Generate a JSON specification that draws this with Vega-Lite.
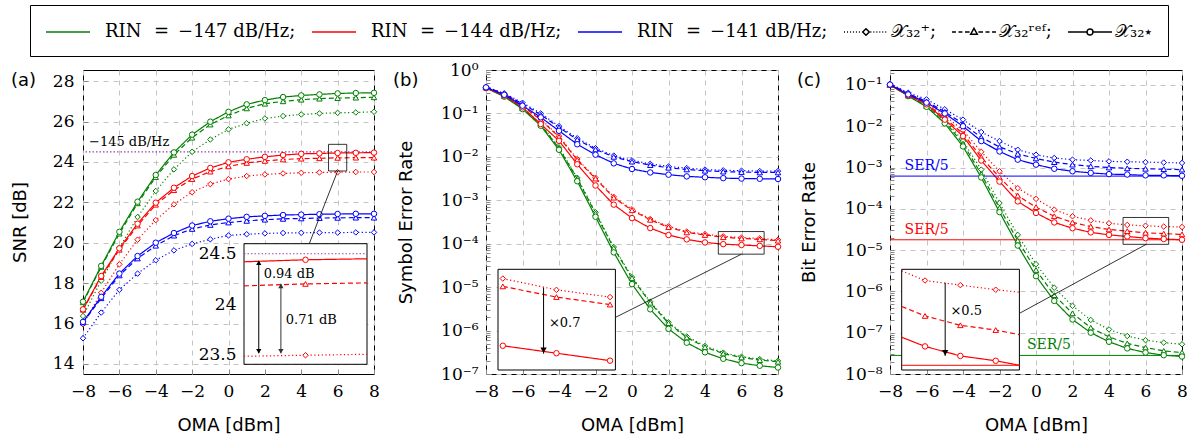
{
"$schema": "https://vega.github.io/schema/vega-lite/v6.json",
"padding": {"left": 10, "top": 4, "right": 4, "bottom": 4},
"spacing": 12,
"config": {
 "font": "DejaVu Serif",
 "view": {"stroke": "black", "strokeWidth": 1},
 "axis": {"grid": true, "gridDash": [5, 5], "gridColor": "#c4c4c4", "gridWidth": 1, "domain": false, "tickColor": "#888", "labelFont": "DejaVu Serif", "labelFontSize": 17, "labelColor": "black", "titleFont": "DejaVu Sans", "titleFontSize": 18, "titleFontWeight": "normal", "titleColor": "black", "labelFlush": false, "labelOverlap": false, "labelSeparation": -30},
 "axisX": {"labelOverlap": false, "labelSeparation": -30}
},
"datasets": {
"snr": [
{"OMA":-8,"RIN":"-147","scheme":"X+","v":16.37},{"OMA":-7,"RIN":"-147","scheme":"X+","v":18.12},{"OMA":-6,"RIN":"-147","scheme":"X+","v":19.75},{"OMA":-5,"RIN":"-147","scheme":"X+","v":21.27},{"OMA":-4,"RIN":"-147","scheme":"X+","v":22.56},{"OMA":-3,"RIN":"-147","scheme":"X+","v":23.63},{"OMA":-2,"RIN":"-147","scheme":"X+","v":24.50},{"OMA":-1,"RIN":"-147","scheme":"X+","v":25.11},{"OMA":0,"RIN":"-147","scheme":"X+","v":25.61},{"OMA":1,"RIN":"-147","scheme":"X+","v":25.91},{"OMA":2,"RIN":"-147","scheme":"X+","v":26.15},{"OMA":3,"RIN":"-147","scheme":"X+","v":26.27},{"OMA":4,"RIN":"-147","scheme":"X+","v":26.35},{"OMA":5,"RIN":"-147","scheme":"X+","v":26.40},{"OMA":6,"RIN":"-147","scheme":"X+","v":26.43},{"OMA":7,"RIN":"-147","scheme":"X+","v":26.45},{"OMA":8,"RIN":"-147","scheme":"X+","v":26.48},
{"OMA":-8,"RIN":"-147","scheme":"Xref","v":17.05},{"OMA":-7,"RIN":"-147","scheme":"Xref","v":18.80},{"OMA":-6,"RIN":"-147","scheme":"Xref","v":20.45},{"OMA":-5,"RIN":"-147","scheme":"Xref","v":21.95},{"OMA":-4,"RIN":"-147","scheme":"Xref","v":23.25},{"OMA":-3,"RIN":"-147","scheme":"Xref","v":24.35},{"OMA":-2,"RIN":"-147","scheme":"Xref","v":25.20},{"OMA":-1,"RIN":"-147","scheme":"Xref","v":25.85},{"OMA":0,"RIN":"-147","scheme":"Xref","v":26.30},{"OMA":1,"RIN":"-147","scheme":"Xref","v":26.65},{"OMA":2,"RIN":"-147","scheme":"Xref","v":26.88},{"OMA":3,"RIN":"-147","scheme":"Xref","v":27.00},{"OMA":4,"RIN":"-147","scheme":"Xref","v":27.08},{"OMA":5,"RIN":"-147","scheme":"Xref","v":27.13},{"OMA":6,"RIN":"-147","scheme":"Xref","v":27.16},{"OMA":7,"RIN":"-147","scheme":"Xref","v":27.18},{"OMA":8,"RIN":"-147","scheme":"Xref","v":27.20},
{"OMA":-8,"RIN":"-147","scheme":"X*","v":17.08},{"OMA":-7,"RIN":"-147","scheme":"X*","v":18.85},{"OMA":-6,"RIN":"-147","scheme":"X*","v":20.54},{"OMA":-5,"RIN":"-147","scheme":"X*","v":22.03},{"OMA":-4,"RIN":"-147","scheme":"X*","v":23.35},{"OMA":-3,"RIN":"-147","scheme":"X*","v":24.47},{"OMA":-2,"RIN":"-147","scheme":"X*","v":25.35},{"OMA":-1,"RIN":"-147","scheme":"X*","v":25.99},{"OMA":0,"RIN":"-147","scheme":"X*","v":26.48},{"OMA":1,"RIN":"-147","scheme":"X*","v":26.85},{"OMA":2,"RIN":"-147","scheme":"X*","v":27.06},{"OMA":3,"RIN":"-147","scheme":"X*","v":27.21},{"OMA":4,"RIN":"-147","scheme":"X*","v":27.29},{"OMA":5,"RIN":"-147","scheme":"X*","v":27.34},{"OMA":6,"RIN":"-147","scheme":"X*","v":27.39},{"OMA":7,"RIN":"-147","scheme":"X*","v":27.41},{"OMA":8,"RIN":"-147","scheme":"X*","v":27.42},
{"OMA":-8,"RIN":"-144","scheme":"X+","v":15.96},{"OMA":-7,"RIN":"-144","scheme":"X+","v":17.52},{"OMA":-6,"RIN":"-144","scheme":"X+","v":18.93},{"OMA":-5,"RIN":"-144","scheme":"X+","v":20.15},{"OMA":-4,"RIN":"-144","scheme":"X+","v":21.12},{"OMA":-3,"RIN":"-144","scheme":"X+","v":21.90},{"OMA":-2,"RIN":"-144","scheme":"X+","v":22.50},{"OMA":-1,"RIN":"-144","scheme":"X+","v":22.90},{"OMA":0,"RIN":"-144","scheme":"X+","v":23.15},{"OMA":1,"RIN":"-144","scheme":"X+","v":23.30},{"OMA":2,"RIN":"-144","scheme":"X+","v":23.38},{"OMA":3,"RIN":"-144","scheme":"X+","v":23.43},{"OMA":4,"RIN":"-144","scheme":"X+","v":23.46},{"OMA":5,"RIN":"-144","scheme":"X+","v":23.48},{"OMA":6,"RIN":"-144","scheme":"X+","v":23.49},{"OMA":7,"RIN":"-144","scheme":"X+","v":23.50},{"OMA":8,"RIN":"-144","scheme":"X+","v":23.50},
{"OMA":-8,"RIN":"-144","scheme":"Xref","v":16.68},{"OMA":-7,"RIN":"-144","scheme":"Xref","v":18.30},{"OMA":-6,"RIN":"-144","scheme":"Xref","v":19.65},{"OMA":-5,"RIN":"-144","scheme":"Xref","v":20.85},{"OMA":-4,"RIN":"-144","scheme":"Xref","v":21.88},{"OMA":-3,"RIN":"-144","scheme":"Xref","v":22.60},{"OMA":-2,"RIN":"-144","scheme":"Xref","v":23.15},{"OMA":-1,"RIN":"-144","scheme":"Xref","v":23.52},{"OMA":0,"RIN":"-144","scheme":"Xref","v":23.78},{"OMA":1,"RIN":"-144","scheme":"Xref","v":23.95},{"OMA":2,"RIN":"-144","scheme":"Xref","v":24.05},{"OMA":3,"RIN":"-144","scheme":"Xref","v":24.12},{"OMA":4,"RIN":"-144","scheme":"Xref","v":24.16},{"OMA":5,"RIN":"-144","scheme":"Xref","v":24.18},{"OMA":6,"RIN":"-144","scheme":"Xref","v":24.20},{"OMA":7,"RIN":"-144","scheme":"Xref","v":24.21},{"OMA":8,"RIN":"-144","scheme":"Xref","v":24.21},
{"OMA":-8,"RIN":"-144","scheme":"X*","v":16.70},{"OMA":-7,"RIN":"-144","scheme":"X*","v":18.35},{"OMA":-6,"RIN":"-144","scheme":"X*","v":19.72},{"OMA":-5,"RIN":"-144","scheme":"X*","v":20.94},{"OMA":-4,"RIN":"-144","scheme":"X*","v":21.98},{"OMA":-3,"RIN":"-144","scheme":"X*","v":22.72},{"OMA":-2,"RIN":"-144","scheme":"X*","v":23.30},{"OMA":-1,"RIN":"-144","scheme":"X*","v":23.70},{"OMA":0,"RIN":"-144","scheme":"X*","v":23.98},{"OMA":1,"RIN":"-144","scheme":"X*","v":24.13},{"OMA":2,"RIN":"-144","scheme":"X*","v":24.25},{"OMA":3,"RIN":"-144","scheme":"X*","v":24.34},{"OMA":4,"RIN":"-144","scheme":"X*","v":24.40},{"OMA":5,"RIN":"-144","scheme":"X*","v":24.42},{"OMA":6,"RIN":"-144","scheme":"X*","v":24.44},{"OMA":7,"RIN":"-144","scheme":"X*","v":24.45},{"OMA":8,"RIN":"-144","scheme":"X*","v":24.46},
{"OMA":-8,"RIN":"-141","scheme":"X+","v":15.27},{"OMA":-7,"RIN":"-141","scheme":"X+","v":16.54},{"OMA":-6,"RIN":"-141","scheme":"X+","v":17.67},{"OMA":-5,"RIN":"-141","scheme":"X+","v":18.47},{"OMA":-4,"RIN":"-141","scheme":"X+","v":19.13},{"OMA":-3,"RIN":"-141","scheme":"X+","v":19.62},{"OMA":-2,"RIN":"-141","scheme":"X+","v":19.94},{"OMA":-1,"RIN":"-141","scheme":"X+","v":20.17},{"OMA":0,"RIN":"-141","scheme":"X+","v":20.36},{"OMA":1,"RIN":"-141","scheme":"X+","v":20.42},{"OMA":2,"RIN":"-141","scheme":"X+","v":20.46},{"OMA":3,"RIN":"-141","scheme":"X+","v":20.48},{"OMA":4,"RIN":"-141","scheme":"X+","v":20.49},{"OMA":5,"RIN":"-141","scheme":"X+","v":20.50},{"OMA":6,"RIN":"-141","scheme":"X+","v":20.50},{"OMA":7,"RIN":"-141","scheme":"X+","v":20.51},{"OMA":8,"RIN":"-141","scheme":"X+","v":20.51},
{"OMA":-8,"RIN":"-141","scheme":"Xref","v":16.05},{"OMA":-7,"RIN":"-141","scheme":"Xref","v":17.25},{"OMA":-6,"RIN":"-141","scheme":"Xref","v":18.38},{"OMA":-5,"RIN":"-141","scheme":"Xref","v":19.22},{"OMA":-4,"RIN":"-141","scheme":"Xref","v":19.85},{"OMA":-3,"RIN":"-141","scheme":"Xref","v":20.35},{"OMA":-2,"RIN":"-141","scheme":"Xref","v":20.68},{"OMA":-1,"RIN":"-141","scheme":"Xref","v":20.88},{"OMA":0,"RIN":"-141","scheme":"Xref","v":21.00},{"OMA":1,"RIN":"-141","scheme":"Xref","v":21.08},{"OMA":2,"RIN":"-141","scheme":"Xref","v":21.14},{"OMA":3,"RIN":"-141","scheme":"Xref","v":21.18},{"OMA":4,"RIN":"-141","scheme":"Xref","v":21.20},{"OMA":5,"RIN":"-141","scheme":"Xref","v":21.22},{"OMA":6,"RIN":"-141","scheme":"Xref","v":21.23},{"OMA":7,"RIN":"-141","scheme":"Xref","v":21.24},{"OMA":8,"RIN":"-141","scheme":"Xref","v":21.24},
{"OMA":-8,"RIN":"-141","scheme":"X*","v":16.08},{"OMA":-7,"RIN":"-141","scheme":"X*","v":17.32},{"OMA":-6,"RIN":"-141","scheme":"X*","v":18.47},{"OMA":-5,"RIN":"-141","scheme":"X*","v":19.34},{"OMA":-4,"RIN":"-141","scheme":"X*","v":20.00},{"OMA":-3,"RIN":"-141","scheme":"X*","v":20.48},{"OMA":-2,"RIN":"-141","scheme":"X*","v":20.85},{"OMA":-1,"RIN":"-141","scheme":"X*","v":21.06},{"OMA":0,"RIN":"-141","scheme":"X*","v":21.19},{"OMA":1,"RIN":"-141","scheme":"X*","v":21.28},{"OMA":2,"RIN":"-141","scheme":"X*","v":21.33},{"OMA":3,"RIN":"-141","scheme":"X*","v":21.37},{"OMA":4,"RIN":"-141","scheme":"X*","v":21.39},{"OMA":5,"RIN":"-141","scheme":"X*","v":21.41},{"OMA":6,"RIN":"-141","scheme":"X*","v":21.42},{"OMA":7,"RIN":"-141","scheme":"X*","v":21.43},{"OMA":8,"RIN":"-141","scheme":"X*","v":21.43}
],
"ser": [
{"OMA":-8,"RIN":"-147","scheme":"X+","v":0.40},{"OMA":-7,"RIN":"-147","scheme":"X+","v":0.255},{"OMA":-6,"RIN":"-147","scheme":"X+","v":0.135},{"OMA":-5,"RIN":"-147","scheme":"X+","v":0.057},{"OMA":-4,"RIN":"-147","scheme":"X+","v":0.0165},{"OMA":-3,"RIN":"-147","scheme":"X+","v":3.3e-3},{"OMA":-2,"RIN":"-147","scheme":"X+","v":5.3e-4},{"OMA":-1,"RIN":"-147","scheme":"X+","v":8.4e-5},{"OMA":0,"RIN":"-147","scheme":"X+","v":1.7e-5},{"OMA":1,"RIN":"-147","scheme":"X+","v":4.6e-6},{"OMA":2,"RIN":"-147","scheme":"X+","v":1.55e-6},{"OMA":3,"RIN":"-147","scheme":"X+","v":7.3e-7},{"OMA":4,"RIN":"-147","scheme":"X+","v":4.4e-7},{"OMA":5,"RIN":"-147","scheme":"X+","v":3.1e-7},{"OMA":6,"RIN":"-147","scheme":"X+","v":2.5e-7},{"OMA":7,"RIN":"-147","scheme":"X+","v":2.2e-7},{"OMA":8,"RIN":"-147","scheme":"X+","v":2.0e-7},
{"OMA":-8,"RIN":"-147","scheme":"Xref","v":0.398},{"OMA":-7,"RIN":"-147","scheme":"Xref","v":0.251},{"OMA":-6,"RIN":"-147","scheme":"Xref","v":0.132},{"OMA":-5,"RIN":"-147","scheme":"Xref","v":0.055},{"OMA":-4,"RIN":"-147","scheme":"Xref","v":0.0158},{"OMA":-3,"RIN":"-147","scheme":"Xref","v":3.16e-3},{"OMA":-2,"RIN":"-147","scheme":"Xref","v":5.01e-4},{"OMA":-1,"RIN":"-147","scheme":"Xref","v":7.94e-5},{"OMA":0,"RIN":"-147","scheme":"Xref","v":1.62e-5},{"OMA":1,"RIN":"-147","scheme":"Xref","v":4.37e-6},{"OMA":2,"RIN":"-147","scheme":"Xref","v":1.48e-6},{"OMA":3,"RIN":"-147","scheme":"Xref","v":6.92e-7},{"OMA":4,"RIN":"-147","scheme":"Xref","v":4.17e-7},{"OMA":5,"RIN":"-147","scheme":"Xref","v":2.95e-7},{"OMA":6,"RIN":"-147","scheme":"Xref","v":2.40e-7},{"OMA":7,"RIN":"-147","scheme":"Xref","v":2.09e-7},{"OMA":8,"RIN":"-147","scheme":"Xref","v":1.91e-7},
{"OMA":-8,"RIN":"-147","scheme":"X*","v":0.385},{"OMA":-7,"RIN":"-147","scheme":"X*","v":0.243},{"OMA":-6,"RIN":"-147","scheme":"X*","v":0.126},{"OMA":-5,"RIN":"-147","scheme":"X*","v":0.052},{"OMA":-4,"RIN":"-147","scheme":"X*","v":0.01455},{"OMA":-3,"RIN":"-147","scheme":"X*","v":2.75e-3},{"OMA":-2,"RIN":"-147","scheme":"X*","v":4.17e-4},{"OMA":-1,"RIN":"-147","scheme":"X*","v":6.31e-5},{"OMA":0,"RIN":"-147","scheme":"X*","v":1.175e-5},{"OMA":1,"RIN":"-147","scheme":"X*","v":3.09e-6},{"OMA":2,"RIN":"-147","scheme":"X*","v":1.096e-6},{"OMA":3,"RIN":"-147","scheme":"X*","v":5.25e-7},{"OMA":4,"RIN":"-147","scheme":"X*","v":3.16e-7},{"OMA":5,"RIN":"-147","scheme":"X*","v":2.24e-7},{"OMA":6,"RIN":"-147","scheme":"X*","v":1.78e-7},{"OMA":7,"RIN":"-147","scheme":"X*","v":1.55e-7},{"OMA":8,"RIN":"-147","scheme":"X*","v":1.41e-7},
{"OMA":-8,"RIN":"-144","scheme":"X+","v":0.40},{"OMA":-7,"RIN":"-144","scheme":"X+","v":0.28},{"OMA":-6,"RIN":"-144","scheme":"X+","v":0.155},{"OMA":-5,"RIN":"-144","scheme":"X+","v":0.074},{"OMA":-4,"RIN":"-144","scheme":"X+","v":0.030},{"OMA":-3,"RIN":"-144","scheme":"X+","v":8.9e-3},{"OMA":-2,"RIN":"-144","scheme":"X+","v":3.3e-3},{"OMA":-1,"RIN":"-144","scheme":"X+","v":1.2e-3},{"OMA":0,"RIN":"-144","scheme":"X+","v":6.2e-4},{"OMA":1,"RIN":"-144","scheme":"X+","v":3.7e-4},{"OMA":2,"RIN":"-144","scheme":"X+","v":2.5e-4},{"OMA":3,"RIN":"-144","scheme":"X+","v":1.9e-4},{"OMA":4,"RIN":"-144","scheme":"X+","v":1.66e-4},{"OMA":5,"RIN":"-144","scheme":"X+","v":1.48e-4},{"OMA":6,"RIN":"-144","scheme":"X+","v":1.38e-4},{"OMA":7,"RIN":"-144","scheme":"X+","v":1.32e-4},{"OMA":8,"RIN":"-144","scheme":"X+","v":1.23e-4},
{"OMA":-8,"RIN":"-144","scheme":"Xref","v":0.398},{"OMA":-7,"RIN":"-144","scheme":"Xref","v":0.269},{"OMA":-6,"RIN":"-144","scheme":"Xref","v":0.148},{"OMA":-5,"RIN":"-144","scheme":"Xref","v":0.0708},{"OMA":-4,"RIN":"-144","scheme":"Xref","v":0.0288},{"OMA":-3,"RIN":"-144","scheme":"Xref","v":8.51e-3},{"OMA":-2,"RIN":"-144","scheme":"Xref","v":3.16e-3},{"OMA":-1,"RIN":"-144","scheme":"Xref","v":1.148e-3},{"OMA":0,"RIN":"-144","scheme":"Xref","v":5.89e-4},{"OMA":1,"RIN":"-144","scheme":"Xref","v":3.55e-4},{"OMA":2,"RIN":"-144","scheme":"Xref","v":2.40e-4},{"OMA":3,"RIN":"-144","scheme":"Xref","v":1.82e-4},{"OMA":4,"RIN":"-144","scheme":"Xref","v":1.585e-4},{"OMA":5,"RIN":"-144","scheme":"Xref","v":1.41e-4},{"OMA":6,"RIN":"-144","scheme":"Xref","v":1.32e-4},{"OMA":7,"RIN":"-144","scheme":"Xref","v":1.26e-4},{"OMA":8,"RIN":"-144","scheme":"Xref","v":1.175e-4},
{"OMA":-8,"RIN":"-144","scheme":"X*","v":0.385},{"OMA":-7,"RIN":"-144","scheme":"X*","v":0.257},{"OMA":-6,"RIN":"-144","scheme":"X*","v":0.138},{"OMA":-5,"RIN":"-144","scheme":"X*","v":0.0569},{"OMA":-4,"RIN":"-144","scheme":"X*","v":0.0234},{"OMA":-3,"RIN":"-144","scheme":"X*","v":6.76e-3},{"OMA":-2,"RIN":"-144","scheme":"X*","v":2.19e-3},{"OMA":-1,"RIN":"-144","scheme":"X*","v":7.94e-4},{"OMA":0,"RIN":"-144","scheme":"X*","v":3.89e-4},{"OMA":1,"RIN":"-144","scheme":"X*","v":2.29e-4},{"OMA":2,"RIN":"-144","scheme":"X*","v":1.585e-4},{"OMA":3,"RIN":"-144","scheme":"X*","v":1.26e-4},{"OMA":4,"RIN":"-144","scheme":"X*","v":1.07e-4},{"OMA":5,"RIN":"-144","scheme":"X*","v":9.77e-5},{"OMA":6,"RIN":"-144","scheme":"X*","v":9.33e-5},{"OMA":7,"RIN":"-144","scheme":"X*","v":8.91e-5},{"OMA":8,"RIN":"-144","scheme":"X*","v":8.51e-5},
{"OMA":-8,"RIN":"-141","scheme":"X+","v":0.41},{"OMA":-7,"RIN":"-141","scheme":"X+","v":0.29},{"OMA":-6,"RIN":"-141","scheme":"X+","v":0.176},{"OMA":-5,"RIN":"-141","scheme":"X+","v":0.100},{"OMA":-4,"RIN":"-141","scheme":"X+","v":0.051},{"OMA":-3,"RIN":"-141","scheme":"X+","v":0.0268},{"OMA":-2,"RIN":"-141","scheme":"X+","v":0.0158},{"OMA":-1,"RIN":"-141","scheme":"X+","v":0.0107},{"OMA":0,"RIN":"-141","scheme":"X+","v":8.3e-3},{"OMA":1,"RIN":"-141","scheme":"X+","v":6.9e-3},{"OMA":2,"RIN":"-141","scheme":"X+","v":6.0e-3},{"OMA":3,"RIN":"-141","scheme":"X+","v":5.5e-3},{"OMA":4,"RIN":"-141","scheme":"X+","v":5.1e-3},{"OMA":5,"RIN":"-141","scheme":"X+","v":4.9e-3},{"OMA":6,"RIN":"-141","scheme":"X+","v":4.8e-3},{"OMA":7,"RIN":"-141","scheme":"X+","v":4.7e-3},{"OMA":8,"RIN":"-141","scheme":"X+","v":4.7e-3},
{"OMA":-8,"RIN":"-141","scheme":"Xref","v":0.407},{"OMA":-7,"RIN":"-141","scheme":"Xref","v":0.282},{"OMA":-6,"RIN":"-141","scheme":"Xref","v":0.166},{"OMA":-5,"RIN":"-141","scheme":"Xref","v":0.0933},{"OMA":-4,"RIN":"-141","scheme":"Xref","v":0.0479},{"OMA":-3,"RIN":"-141","scheme":"Xref","v":0.0251},{"OMA":-2,"RIN":"-141","scheme":"Xref","v":0.0148},{"OMA":-1,"RIN":"-141","scheme":"Xref","v":0.0100},{"OMA":0,"RIN":"-141","scheme":"Xref","v":7.76e-3},{"OMA":1,"RIN":"-141","scheme":"Xref","v":6.46e-3},{"OMA":2,"RIN":"-141","scheme":"Xref","v":5.62e-3},{"OMA":3,"RIN":"-141","scheme":"Xref","v":5.13e-3},{"OMA":4,"RIN":"-141","scheme":"Xref","v":4.79e-3},{"OMA":5,"RIN":"-141","scheme":"Xref","v":4.57e-3},{"OMA":6,"RIN":"-141","scheme":"Xref","v":4.47e-3},{"OMA":7,"RIN":"-141","scheme":"Xref","v":4.37e-3},{"OMA":8,"RIN":"-141","scheme":"Xref","v":4.37e-3},
{"OMA":-8,"RIN":"-141","scheme":"X*","v":0.398},{"OMA":-7,"RIN":"-141","scheme":"X*","v":0.269},{"OMA":-6,"RIN":"-141","scheme":"X*","v":0.151},{"OMA":-5,"RIN":"-141","scheme":"X*","v":0.0813},{"OMA":-4,"RIN":"-141","scheme":"X*","v":0.0398},{"OMA":-3,"RIN":"-141","scheme":"X*","v":0.0195},{"OMA":-2,"RIN":"-141","scheme":"X*","v":0.01122},{"OMA":-1,"RIN":"-141","scheme":"X*","v":7.08e-3},{"OMA":0,"RIN":"-141","scheme":"X*","v":5.25e-3},{"OMA":1,"RIN":"-141","scheme":"X*","v":4.37e-3},{"OMA":2,"RIN":"-141","scheme":"X*","v":3.89e-3},{"OMA":3,"RIN":"-141","scheme":"X*","v":3.55e-3},{"OMA":4,"RIN":"-141","scheme":"X*","v":3.39e-3},{"OMA":5,"RIN":"-141","scheme":"X*","v":3.24e-3},{"OMA":6,"RIN":"-141","scheme":"X*","v":3.16e-3},{"OMA":7,"RIN":"-141","scheme":"X*","v":3.13e-3},{"OMA":8,"RIN":"-141","scheme":"X*","v":3.09e-3}
],
"ber": [
{"OMA":-8,"RIN":"-147","scheme":"X+","v":0.1047},{"OMA":-7,"RIN":"-147","scheme":"X+","v":5.75e-2},{"OMA":-6,"RIN":"-147","scheme":"X+","v":3.31e-2},{"OMA":-5,"RIN":"-147","scheme":"X+","v":1.445e-2},{"OMA":-4,"RIN":"-147","scheme":"X+","v":4.37e-3},{"OMA":-3,"RIN":"-147","scheme":"X+","v":8.91e-4},{"OMA":-2,"RIN":"-147","scheme":"X+","v":1.38e-4},{"OMA":-1,"RIN":"-147","scheme":"X+","v":2.34e-5},{"OMA":0,"RIN":"-147","scheme":"X+","v":4.57e-6},{"OMA":1,"RIN":"-147","scheme":"X+","v":1.23e-6},{"OMA":2,"RIN":"-147","scheme":"X+","v":4.47e-7},{"OMA":3,"RIN":"-147","scheme":"X+","v":2.04e-7},{"OMA":4,"RIN":"-147","scheme":"X+","v":1.20e-7},{"OMA":5,"RIN":"-147","scheme":"X+","v":8.32e-8},{"OMA":6,"RIN":"-147","scheme":"X+","v":6.61e-8},{"OMA":7,"RIN":"-147","scheme":"X+","v":5.75e-8},{"OMA":8,"RIN":"-147","scheme":"X+","v":5.25e-8},
{"OMA":-8,"RIN":"-147","scheme":"Xref","v":0.1},{"OMA":-7,"RIN":"-147","scheme":"Xref","v":5.5e-2},{"OMA":-6,"RIN":"-147","scheme":"Xref","v":3.09e-2},{"OMA":-5,"RIN":"-147","scheme":"Xref","v":1.32e-2},{"OMA":-4,"RIN":"-147","scheme":"Xref","v":3.80e-3},{"OMA":-3,"RIN":"-147","scheme":"Xref","v":6.92e-4},{"OMA":-2,"RIN":"-147","scheme":"Xref","v":1.047e-4},{"OMA":-1,"RIN":"-147","scheme":"Xref","v":1.70e-5},{"OMA":0,"RIN":"-147","scheme":"Xref","v":3.31e-6},{"OMA":1,"RIN":"-147","scheme":"Xref","v":8.13e-7},{"OMA":2,"RIN":"-147","scheme":"Xref","v":2.95e-7},{"OMA":3,"RIN":"-147","scheme":"Xref","v":1.32e-7},{"OMA":4,"RIN":"-147","scheme":"Xref","v":7.94e-8},{"OMA":5,"RIN":"-147","scheme":"Xref","v":5.50e-8},{"OMA":6,"RIN":"-147","scheme":"Xref","v":4.37e-8},{"OMA":7,"RIN":"-147","scheme":"Xref","v":3.63e-8},{"OMA":8,"RIN":"-147","scheme":"Xref","v":3.31e-8},
{"OMA":-8,"RIN":"-147","scheme":"X*","v":0.1},{"OMA":-7,"RIN":"-147","scheme":"X*","v":5.37e-2},{"OMA":-6,"RIN":"-147","scheme":"X*","v":2.95e-2},{"OMA":-5,"RIN":"-147","scheme":"X*","v":1.175e-2},{"OMA":-4,"RIN":"-147","scheme":"X*","v":3.24e-3},{"OMA":-3,"RIN":"-147","scheme":"X*","v":5.75e-4},{"OMA":-2,"RIN":"-147","scheme":"X*","v":8.32e-5},{"OMA":-1,"RIN":"-147","scheme":"X*","v":1.29e-5},{"OMA":0,"RIN":"-147","scheme":"X*","v":2.34e-6},{"OMA":1,"RIN":"-147","scheme":"X*","v":5.89e-7},{"OMA":2,"RIN":"-147","scheme":"X*","v":2.09e-7},{"OMA":3,"RIN":"-147","scheme":"X*","v":1.0e-7},{"OMA":4,"RIN":"-147","scheme":"X*","v":6.03e-8},{"OMA":5,"RIN":"-147","scheme":"X*","v":4.17e-8},{"OMA":6,"RIN":"-147","scheme":"X*","v":3.31e-8},{"OMA":7,"RIN":"-147","scheme":"X*","v":2.85e-8},{"OMA":8,"RIN":"-147","scheme":"X*","v":2.65e-8},
{"OMA":-8,"RIN":"-144","scheme":"X+","v":0.1047},{"OMA":-7,"RIN":"-144","scheme":"X+","v":6.03e-2},{"OMA":-6,"RIN":"-144","scheme":"X+","v":3.80e-2},{"OMA":-5,"RIN":"-144","scheme":"X+","v":1.82e-2},{"OMA":-4,"RIN":"-144","scheme":"X+","v":7.94e-3},{"OMA":-3,"RIN":"-144","scheme":"X+","v":2.40e-3},{"OMA":-2,"RIN":"-144","scheme":"X+","v":8.13e-4},{"OMA":-1,"RIN":"-144","scheme":"X+","v":3.16e-4},{"OMA":0,"RIN":"-144","scheme":"X+","v":1.74e-4},{"OMA":1,"RIN":"-144","scheme":"X+","v":9.55e-5},{"OMA":2,"RIN":"-144","scheme":"X+","v":6.61e-5},{"OMA":3,"RIN":"-144","scheme":"X+","v":5.25e-5},{"OMA":4,"RIN":"-144","scheme":"X+","v":4.47e-5},{"OMA":5,"RIN":"-144","scheme":"X+","v":4.07e-5},{"OMA":6,"RIN":"-144","scheme":"X+","v":3.89e-5},{"OMA":7,"RIN":"-144","scheme":"X+","v":3.72e-5},{"OMA":8,"RIN":"-144","scheme":"X+","v":3.63e-5},
{"OMA":-8,"RIN":"-144","scheme":"Xref","v":0.1},{"OMA":-7,"RIN":"-144","scheme":"Xref","v":5.75e-2},{"OMA":-6,"RIN":"-144","scheme":"Xref","v":3.55e-2},{"OMA":-5,"RIN":"-144","scheme":"Xref","v":1.585e-2},{"OMA":-4,"RIN":"-144","scheme":"Xref","v":6.61e-3},{"OMA":-3,"RIN":"-144","scheme":"Xref","v":1.78e-3},{"OMA":-2,"RIN":"-144","scheme":"Xref","v":5.75e-4},{"OMA":-1,"RIN":"-144","scheme":"Xref","v":2.09e-4},{"OMA":0,"RIN":"-144","scheme":"Xref","v":1.096e-4},{"OMA":1,"RIN":"-144","scheme":"Xref","v":6.61e-5},{"OMA":2,"RIN":"-144","scheme":"Xref","v":4.68e-5},{"OMA":3,"RIN":"-144","scheme":"Xref","v":3.72e-5},{"OMA":4,"RIN":"-144","scheme":"Xref","v":3.16e-5},{"OMA":5,"RIN":"-144","scheme":"Xref","v":2.88e-5},{"OMA":6,"RIN":"-144","scheme":"Xref","v":2.63e-5},{"OMA":7,"RIN":"-144","scheme":"Xref","v":2.51e-5},{"OMA":8,"RIN":"-144","scheme":"Xref","v":2.40e-5},
{"OMA":-8,"RIN":"-144","scheme":"X*","v":0.1},{"OMA":-7,"RIN":"-144","scheme":"X*","v":5.62e-2},{"OMA":-6,"RIN":"-144","scheme":"X*","v":3.39e-2},{"OMA":-5,"RIN":"-144","scheme":"X*","v":1.445e-2},{"OMA":-4,"RIN":"-144","scheme":"X*","v":5.75e-3},{"OMA":-3,"RIN":"-144","scheme":"X*","v":1.48e-3},{"OMA":-2,"RIN":"-144","scheme":"X*","v":4.57e-4},{"OMA":-1,"RIN":"-144","scheme":"X*","v":1.51e-4},{"OMA":0,"RIN":"-144","scheme":"X*","v":7.94e-5},{"OMA":1,"RIN":"-144","scheme":"X*","v":4.68e-5},{"OMA":2,"RIN":"-144","scheme":"X*","v":3.39e-5},{"OMA":3,"RIN":"-144","scheme":"X*","v":2.69e-5},{"OMA":4,"RIN":"-144","scheme":"X*","v":2.34e-5},{"OMA":5,"RIN":"-144","scheme":"X*","v":2.14e-5},{"OMA":6,"RIN":"-144","scheme":"X*","v":1.95e-5},{"OMA":7,"RIN":"-144","scheme":"X*","v":1.86e-5},{"OMA":8,"RIN":"-144","scheme":"X*","v":1.78e-5},
{"OMA":-8,"RIN":"-141","scheme":"X+","v":0.107},{"OMA":-7,"RIN":"-141","scheme":"X+","v":6.46e-2},{"OMA":-6,"RIN":"-141","scheme":"X+","v":4.47e-2},{"OMA":-5,"RIN":"-141","scheme":"X+","v":2.57e-2},{"OMA":-4,"RIN":"-141","scheme":"X+","v":1.445e-2},{"OMA":-3,"RIN":"-141","scheme":"X+","v":7.24e-3},{"OMA":-2,"RIN":"-141","scheme":"X+","v":4.37e-3},{"OMA":-1,"RIN":"-141","scheme":"X+","v":2.69e-3},{"OMA":0,"RIN":"-141","scheme":"X+","v":2.04e-3},{"OMA":1,"RIN":"-141","scheme":"X+","v":1.70e-3},{"OMA":2,"RIN":"-141","scheme":"X+","v":1.55e-3},{"OMA":3,"RIN":"-141","scheme":"X+","v":1.48e-3},{"OMA":4,"RIN":"-141","scheme":"X+","v":1.41e-3},{"OMA":5,"RIN":"-141","scheme":"X+","v":1.38e-3},{"OMA":6,"RIN":"-141","scheme":"X+","v":1.35e-3},{"OMA":7,"RIN":"-141","scheme":"X+","v":1.32e-3},{"OMA":8,"RIN":"-141","scheme":"X+","v":1.29e-3},
{"OMA":-8,"RIN":"-141","scheme":"Xref","v":0.1047},{"OMA":-7,"RIN":"-141","scheme":"Xref","v":6.17e-2},{"OMA":-6,"RIN":"-141","scheme":"Xref","v":3.98e-2},{"OMA":-5,"RIN":"-141","scheme":"Xref","v":2.24e-2},{"OMA":-4,"RIN":"-141","scheme":"Xref","v":1.148e-2},{"OMA":-3,"RIN":"-141","scheme":"Xref","v":5.37e-3},{"OMA":-2,"RIN":"-141","scheme":"Xref","v":3.16e-3},{"OMA":-1,"RIN":"-141","scheme":"Xref","v":2.14e-3},{"OMA":0,"RIN":"-141","scheme":"Xref","v":1.66e-3},{"OMA":1,"RIN":"-141","scheme":"Xref","v":1.35e-3},{"OMA":2,"RIN":"-141","scheme":"Xref","v":1.175e-3},{"OMA":3,"RIN":"-141","scheme":"Xref","v":1.07e-3},{"OMA":4,"RIN":"-141","scheme":"Xref","v":1.0e-3},{"OMA":5,"RIN":"-141","scheme":"Xref","v":9.55e-4},{"OMA":6,"RIN":"-141","scheme":"Xref","v":9.33e-4},{"OMA":7,"RIN":"-141","scheme":"Xref","v":9.12e-4},{"OMA":8,"RIN":"-141","scheme":"Xref","v":8.91e-4},
{"OMA":-8,"RIN":"-141","scheme":"X*","v":0.102},{"OMA":-7,"RIN":"-141","scheme":"X*","v":5.89e-2},{"OMA":-6,"RIN":"-141","scheme":"X*","v":3.72e-2},{"OMA":-5,"RIN":"-141","scheme":"X*","v":2.04e-2},{"OMA":-4,"RIN":"-141","scheme":"X*","v":1.0e-2},{"OMA":-3,"RIN":"-141","scheme":"X*","v":4.37e-3},{"OMA":-2,"RIN":"-141","scheme":"X*","v":2.45e-3},{"OMA":-1,"RIN":"-141","scheme":"X*","v":1.55e-3},{"OMA":0,"RIN":"-141","scheme":"X*","v":1.175e-3},{"OMA":1,"RIN":"-141","scheme":"X*","v":9.33e-4},{"OMA":2,"RIN":"-141","scheme":"X*","v":8.13e-4},{"OMA":3,"RIN":"-141","scheme":"X*","v":7.41e-4},{"OMA":4,"RIN":"-141","scheme":"X*","v":6.92e-4},{"OMA":5,"RIN":"-141","scheme":"X*","v":6.76e-4},{"OMA":6,"RIN":"-141","scheme":"X*","v":6.46e-4},{"OMA":7,"RIN":"-141","scheme":"X*","v":6.46e-4},{"OMA":8,"RIN":"-141","scheme":"X*","v":6.31e-4}
],
"ser5": [{"RIN":"-147","v":2.82e-8},{"RIN":"-144","v":1.78e-5},{"RIN":"-141","v":6.2e-4}]
},
"resolve": {"scale": {"color": "shared", "shape": "shared", "strokeDash": "shared"}},
"hconcat": [
{
 "width": 291, "height": 304,
 "resolve": {"scale": {"x": "independent", "y": "independent"}},
 "layer": [
  {"layer": [
   {"data": {"values": [{}]}, "mark": {"type": "rule", "color": "#a040b0", "strokeDash": [1.5, 2], "strokeWidth": 1.2}, "encoding": {"y": {"datum": 24.5, "type": "quantitative"}}},
   {"data": {"name": "snr"}, "mark": {"type": "line", "strokeWidth": 1.2},
    "encoding": {
     "x": {"field": "OMA", "type": "quantitative", "scale": {"domain": [-8, 8], "nice": false, "zero": false}, "axis": {"values": [-8,-6,-4,-2,0,2,4,6,8], "tickCount": 12, "labelOverlap": false, "labelSeparation": -30, "title": "OMA [dBm]", "labelPadding": 14, "tickSize": -5, "titlePadding": 17}},
     "y": {"field": "v", "type": "quantitative", "scale": {"domain": [13.5, 28.55], "nice": false, "zero": false}, "axis": {"values": [14,16,18,20,22,24,26,28], "tickCount": 12, "labelOverlap": false, "title": "SNR [dB]", "labelPadding": 14, "tickSize": -5, "titlePadding": 23}},
     "color": {"field": "RIN", "type": "nominal", "scale": {"domain": ["-147","-144","-141","X+","Xref","X*"], "range": ["#008000","#ff0000","#0000ff","#000000","#000000","#000000"]},
       "legend": {"orient": "none", "legendX": -53, "legendY": -65, "direction": "horizontal", "columns": 6, "title": null, "symbolType": "stroke", "symbolSize": 484, "symbolStrokeWidth": 1.5, "labelFont": "DejaVu Serif", "labelFontSize": 18, "labelColor": "black", "labelOffset": 36, "columnPadding": 13, "padding": 15, "strokeColor": "black", "labelLimit": 400,
        "labelExpr": "datum.value == 'X+' ? '𝒳₃₂⁺;' : datum.value == 'Xref' ? '𝒳₃₂ʳᵉᶠ;' : datum.value == 'X*' ? '𝒳₃₂⋆' : 'RIN\u2002\u2009=\u2002−' + slice(datum.value, 1) + ' dB/Hz;'",
        "encode": {
         "symbols": {"update": {"shape": {"signal": "datum.value == 'X+' ? 'M-1,0h0.09M-0.73,0h0.09M-0.46,0h0.09M-0.19,0h0.09M0.08,0h0.09M0.35,0h0.09M1.4,0h0.09M1.67,0h0.09M1.94,0h0.09M2.21,0h0.09M2.48,0h0.09M2.75,0h0.09M1,-0.3L1.3,0L1,0.3L0.7,0Z' : datum.value == 'Xref' ? 'M-1,0H-0.64M-0.41,0H-0.05M0.18,0H0.6M1.4,0H1.82M2.05,0H2.41M2.64,0H3M1,-0.33L1.3,0.2L0.7,0.2Z' : datum.value == 'X*' ? 'M-1,0H0.73M1.27,0H3M1.27,0A0.27,0.27,0,1,1,0.73,0A0.27,0.27,0,1,1,1.27,0Z' : 'M-1,0H3'"}, "fill": {"value": "white"}, "strokeDash": {"value": []}, "opacity": {"value": 1}}},
         "labels": {"update": {"dx": {"signal": "indexof(['X+','Xref','X*'], datum.value) >= 0 ? -12 : 0"}}}
        }}},
     "strokeDash": {"field": "scheme", "type": "nominal", "scale": {"domain": ["X+","Xref","X*"], "range": [[1.2,2.5],[5,3],[1,0]]}, "legend": null}
    }},
   {"data": {"name": "snr"}, "mark": {"type": "point", "filled": false, "fill": "white", "fillOpacity": 1, "size": 30, "strokeWidth": 1, "opacity": 1},
    "encoding": {
     "x": {"field": "OMA", "type": "quantitative"},
     "y": {"field": "v", "type": "quantitative"},
     "color": {"field": "RIN", "type": "nominal"},
     "shape": {"field": "scheme", "type": "nominal", "scale": {"domain": ["X+","Xref","X*"], "range": ["diamond","triangle-up","circle"]}, "legend": null}
    }},
   {"data": {"values": [{}]}, "mark": {"type": "text", "align": "left", "baseline": "alphabetic", "font": "DejaVu Serif", "fontSize": 13, "text": "−145 dB/Hz"}, "encoding": {"x": {"datum": -7.67, "type": "quantitative"}, "y": {"datum": 24.8, "type": "quantitative"}}},
   {"data": {"values": [{}]}, "mark": {"type": "text", "align": "left", "baseline": "top", "dx": -72, "dy": 2, "font": "DejaVu Sans", "fontSize": 18, "text": "(a)"}, "encoding": {"x": {"datum": -8, "type": "quantitative"}, "y": {"datum": 28.55, "type": "quantitative"}}},
   {"data": {"values": [{}]}, "mark": {"type": "rect", "fill": "transparent", "stroke": "black", "strokeWidth": 0.8}, "encoding": {"x": {"datum": 5.5, "type": "quantitative"}, "x2": {"datum": 6.5}, "y": {"datum": 23.55, "type": "quantitative"}, "y2": {"datum": 24.87}}},
   {"data": {"values": [{}]}, "mark": {"type": "rule", "color": "black", "strokeWidth": 0.8}, "encoding": {"x": {"datum": 6.0, "type": "quantitative"}, "y": {"datum": 23.55, "type": "quantitative"}, "x2": {"datum": 4.44}, "y2": {"datum": 19.95}}}
  ]},
  {"layer": [
   {"data": {"values": [{}]}, "mark": {"type": "rect", "fill": "white", "stroke": "black", "strokeWidth": 1},
    "encoding": {"x": {"datum": 5.5, "type": "quantitative", "scale": {"domain": [5.5, 6.5], "range": [161, 284], "clamp": true, "nice": false, "zero": false}, "axis": null}, "x2": {"datum": 6.5},
     "y": {"datum": 23.4, "type": "quantitative", "scale": {"domain": [23.4, 24.6], "range": [294.3, 173.7], "clamp": true, "nice": false, "zero": false}, "axis": {"values": [23.5, 24, 24.5], "tickCount": 6, "orient": "left", "offset": -161, "grid": false, "ticks": false, "domain": false, "labelPadding": 8, "title": null, "labelExpr": "'' + datum.value"}}, "y2": {"datum": 24.6}}},
   {"data": {"values": [{}]}, "mark": {"type": "rule", "color": "#a040b0", "strokeDash": [1.5, 2], "strokeWidth": 1.2}, "encoding": {"x": {"datum": 5.5, "type": "quantitative"}, "x2": {"datum": 6.5}, "y": {"datum": 24.5, "type": "quantitative"}}},
   {"data": {"name": "snr"}, "transform": [{"filter": "datum.RIN == '-144' && datum.OMA >= 5 && datum.OMA <= 7"}], "mark": {"type": "line", "strokeWidth": 1.2},
    "encoding": {"x": {"field": "OMA", "type": "quantitative"}, "y": {"field": "v", "type": "quantitative"}, "color": {"field": "RIN", "type": "nominal"}, "strokeDash": {"field": "scheme", "type": "nominal"}}},
   {"data": {"name": "snr"}, "transform": [{"filter": "datum.RIN == '-144' && datum.OMA == 6"}], "mark": {"type": "point", "filled": false, "fill": "white", "fillOpacity": 1, "size": 30, "strokeWidth": 1, "opacity": 1},
    "encoding": {"x": {"field": "OMA", "type": "quantitative"}, "y": {"field": "v", "type": "quantitative"}, "color": {"field": "RIN", "type": "nominal"}, "shape": {"field": "scheme", "type": "nominal"}}},
   {"data": {"values": [{}]}, "mark": {"type": "rule", "color": "black", "strokeWidth": 1}, "encoding": {"x": {"datum": 5.62, "type": "quantitative"}, "y": {"datum": 24.43, "type": "quantitative"}, "y2": {"datum": 23.51}}},
   {"data": {"values": [{}]}, "mark": {"type": "rule", "color": "#333", "strokeWidth": 1}, "encoding": {"x": {"datum": 5.8, "type": "quantitative"}, "y": {"datum": 24.2, "type": "quantitative"}, "y2": {"datum": 23.51}}},
   {"data": {"values": [{}]}, "mark": {"type": "point", "shape": "triangle-up", "filled": true, "color": "black", "size": 28, "opacity": 1}, "encoding": {"x": {"datum": 5.62, "type": "quantitative"}, "y": {"datum": 24.41, "type": "quantitative"}}},
   {"data": {"values": [{}]}, "mark": {"type": "point", "shape": "triangle-down", "filled": true, "color": "black", "size": 28, "opacity": 1}, "encoding": {"x": {"datum": 5.62, "type": "quantitative"}, "y": {"datum": 23.53, "type": "quantitative"}}},
   {"data": {"values": [{}]}, "mark": {"type": "point", "shape": "triangle-up", "filled": true, "color": "#333", "size": 28, "opacity": 1}, "encoding": {"x": {"datum": 5.8, "type": "quantitative"}, "y": {"datum": 24.18, "type": "quantitative"}}},
   {"data": {"values": [{}]}, "mark": {"type": "point", "shape": "triangle-down", "filled": true, "color": "#333", "size": 28, "opacity": 1}, "encoding": {"x": {"datum": 5.8, "type": "quantitative"}, "y": {"datum": 23.53, "type": "quantitative"}}},
   {"data": {"values": [{}]}, "mark": {"type": "text", "align": "left", "baseline": "middle", "font": "DejaVu Serif", "fontSize": 13, "text": "0.94 dB"}, "encoding": {"x": {"datum": 5.66, "type": "quantitative"}, "y": {"datum": 24.3, "type": "quantitative"}}},
   {"data": {"values": [{}]}, "mark": {"type": "text", "align": "left", "baseline": "middle", "font": "DejaVu Serif", "fontSize": 13, "text": "0.71 dB"}, "encoding": {"x": {"datum": 5.84, "type": "quantitative"}, "y": {"datum": 23.84, "type": "quantitative"}}}
  ]}
 ]
},
{
 "width": 292, "height": 304,
 "resolve": {"scale": {"x": "independent", "y": "independent"}},
 "layer": [
  {"layer": [
   {"data": {"name": "ser"}, "mark": {"type": "line", "strokeWidth": 1.2},
    "encoding": {
     "x": {"field": "OMA", "type": "quantitative", "scale": {"domain": [-8, 8], "nice": false, "zero": false}, "axis": {"values": [-8,-6,-4,-2,0,2,4,6,8], "tickCount": 12, "labelOverlap": false, "labelSeparation": -30, "title": "OMA [dBm]", "labelPadding": 14, "tickSize": -5, "titlePadding": 17}},
     "y": {"field": "v", "type": "quantitative", "scale": {"type": "log", "domain": [1e-7, 1], "nice": false}, "axis": {"tickCount": 30, "labelOverlap": false, "title": "Symbol Error Rate", "tickSize": -4, "labelPadding": 12, "titlePadding": 25,
       "labelExpr": "abs(log(datum.value)/LN10 - round(log(datum.value)/LN10)) < 0.001 ? ['10⁰','10⁻¹','10⁻²','10⁻³','10⁻⁴','10⁻⁵','10⁻⁶','10⁻⁷','10⁻⁸'][round(-log(datum.value)/LN10)] : ''",
       "gridOpacity": {"condition": {"test": "abs(log(datum.value)/LN10 - round(log(datum.value)/LN10)) < 0.001", "value": 1}, "value": 0}}},
     "color": {"field": "RIN", "type": "nominal"},
     "strokeDash": {"field": "scheme", "type": "nominal"}
    }},
   {"data": {"name": "ser"}, "mark": {"type": "point", "filled": false, "fill": "white", "fillOpacity": 1, "size": 30, "strokeWidth": 1, "opacity": 1},
    "encoding": {"x": {"field": "OMA", "type": "quantitative"}, "y": {"field": "v", "type": "quantitative"}, "color": {"field": "RIN", "type": "nominal"}, "shape": {"field": "scheme", "type": "nominal"}}},
   {"data": {"values": [{}]}, "mark": {"type": "text", "align": "left", "baseline": "top", "dx": -93, "dy": 2, "font": "DejaVu Sans", "fontSize": 18, "text": "(b)"}, "encoding": {"x": {"datum": -8, "type": "quantitative"}, "y": {"datum": 1, "type": "quantitative"}}},
   {"data": {"values": [{}]}, "mark": {"type": "rect", "fill": "transparent", "stroke": "black", "strokeWidth": 0.8}, "encoding": {"x": {"datum": 4.73, "type": "quantitative"}, "x2": {"datum": 7.24}, "y": {"datum": 5.75e-5, "type": "quantitative"}, "y2": {"datum": 1.905e-4}}},
   {"data": {"values": [{}]}, "mark": {"type": "rule", "color": "black", "strokeWidth": 0.8}, "encoding": {"x": {"datum": 6.0, "type": "quantitative"}, "y": {"datum": 5.75e-5, "type": "quantitative"}, "x2": {"datum": -0.92}, "y2": {"datum": 2.0e-6}}}
  ]},
  {"layer": [
   {"data": {"values": [{}]}, "mark": {"type": "rect", "fill": "white", "stroke": "black", "strokeWidth": 1},
    "encoding": {"x": {"datum": 4.91, "type": "quantitative", "scale": {"domain": [4.91, 7.1], "range": [12, 129.4], "clamp": true, "nice": false, "zero": false}, "axis": null}, "x2": {"datum": 7.1},
     "y": {"datum": 8.41e-5, "type": "quantitative", "scale": {"type": "log", "domain": [8.41e-5, 1.567e-4], "range": [300, 199.3], "clamp": true, "nice": false}, "axis": null}, "y2": {"datum": 1.567e-4}}},
   {"data": {"name": "ser"}, "transform": [{"filter": "datum.RIN == '-144' && datum.OMA >= 5 && datum.OMA <= 7"}], "mark": {"type": "line", "strokeWidth": 1.2},
    "encoding": {"x": {"field": "OMA", "type": "quantitative"}, "y": {"field": "v", "type": "quantitative"}, "color": {"field": "RIN", "type": "nominal"}, "strokeDash": {"field": "scheme", "type": "nominal"}}},
   {"data": {"name": "ser"}, "transform": [{"filter": "datum.RIN == '-144' && datum.OMA >= 5 && datum.OMA <= 7"}], "mark": {"type": "point", "filled": false, "fill": "white", "fillOpacity": 1, "size": 30, "strokeWidth": 1, "opacity": 1},
    "encoding": {"x": {"field": "OMA", "type": "quantitative"}, "y": {"field": "v", "type": "quantitative"}, "color": {"field": "RIN", "type": "nominal"}, "shape": {"field": "scheme", "type": "nominal"}}},
   {"data": {"values": [{}]}, "mark": {"type": "rule", "color": "black", "strokeWidth": 1}, "encoding": {"x": {"datum": 5.76, "type": "quantitative"}, "y": {"datum": 1.4e-4, "type": "quantitative"}, "y2": {"datum": 9.3e-5}}},
   {"data": {"values": [{}]}, "mark": {"type": "point", "shape": "triangle-down", "filled": true, "color": "black", "size": 40, "opacity": 1}, "encoding": {"x": {"datum": 5.76, "type": "quantitative"}, "y": {"datum": 9.5e-5, "type": "quantitative"}}},
   {"data": {"values": [{}]}, "mark": {"type": "text", "align": "left", "baseline": "middle", "font": "DejaVu Serif", "fontSize": 13, "text": "×0.7"}, "encoding": {"x": {"datum": 5.86, "type": "quantitative"}, "y": {"datum": 1.127e-4, "type": "quantitative"}}}
  ]}
 ]
},
{
 "width": 292, "height": 304,
 "resolve": {"scale": {"x": "independent", "y": "independent"}},
 "layer": [
  {"layer": [
   {"data": {"name": "ber"}, "mark": {"type": "line", "strokeWidth": 1.2},
    "encoding": {
     "x": {"field": "OMA", "type": "quantitative", "scale": {"domain": [-8, 8], "nice": false, "zero": false}, "axis": {"values": [-8,-6,-4,-2,0,2,4,6,8], "tickCount": 12, "labelOverlap": false, "labelSeparation": -30, "title": "OMA [dBm]", "labelPadding": 14, "tickSize": -5, "titlePadding": 17}},
     "y": {"field": "v", "type": "quantitative", "scale": {"type": "log", "domain": [1e-8, 0.23], "nice": false}, "axis": {"tickCount": 30, "labelOverlap": false, "title": "Bit Error Rate", "tickSize": -4, "labelPadding": 12, "titlePadding": 26,
       "labelExpr": "abs(log(datum.value)/LN10 - round(log(datum.value)/LN10)) < 0.001 ? ['10⁰','10⁻¹','10⁻²','10⁻³','10⁻⁴','10⁻⁵','10⁻⁶','10⁻⁷','10⁻⁸'][round(-log(datum.value)/LN10)] : ''",
       "gridOpacity": {"condition": {"test": "abs(log(datum.value)/LN10 - round(log(datum.value)/LN10)) < 0.001", "value": 1}, "value": 0}}},
     "color": {"field": "RIN", "type": "nominal"},
     "strokeDash": {"field": "scheme", "type": "nominal"}
    }},
   {"data": {"name": "ser5"}, "mark": {"type": "rule", "strokeWidth": 1}, "encoding": {"y": {"field": "v", "type": "quantitative"}, "color": {"field": "RIN", "type": "nominal"}}},
   {"data": {"name": "ber"}, "mark": {"type": "point", "filled": false, "fill": "white", "fillOpacity": 1, "size": 30, "strokeWidth": 1, "opacity": 1},
    "encoding": {"x": {"field": "OMA", "type": "quantitative"}, "y": {"field": "v", "type": "quantitative"}, "color": {"field": "RIN", "type": "nominal"}, "shape": {"field": "scheme", "type": "nominal"}}},
   {"data": {"values": [{}]}, "mark": {"type": "text", "align": "left", "baseline": "top", "dx": -93, "dy": 2, "font": "DejaVu Sans", "fontSize": 18, "text": "(c)"}, "encoding": {"x": {"datum": -8, "type": "quantitative"}, "y": {"datum": 0.23, "type": "quantitative"}}},
   {"data": {"values": [{}]}, "mark": {"type": "text", "align": "left", "baseline": "bottom", "dy": -3, "font": "DejaVu Serif", "fontSize": 14, "color": "#0000ff", "text": "SER/5"}, "encoding": {"x": {"datum": -7.2, "type": "quantitative"}, "y": {"datum": 6.2e-4, "type": "quantitative"}}},
   {"data": {"values": [{}]}, "mark": {"type": "text", "align": "left", "baseline": "bottom", "dy": -3, "font": "DejaVu Serif", "fontSize": 14, "color": "#ff0000", "text": "SER/5"}, "encoding": {"x": {"datum": -7.2, "type": "quantitative"}, "y": {"datum": 1.78e-5, "type": "quantitative"}}},
   {"data": {"values": [{}]}, "mark": {"type": "text", "align": "left", "baseline": "bottom", "dy": -3, "font": "DejaVu Serif", "fontSize": 14, "color": "#008000", "text": "SER/5"}, "encoding": {"x": {"datum": -0.5, "type": "quantitative"}, "y": {"datum": 2.82e-8, "type": "quantitative"}}},
   {"data": {"values": [{}]}, "mark": {"type": "rect", "fill": "transparent", "stroke": "black", "strokeWidth": 0.8}, "encoding": {"x": {"datum": 4.77, "type": "quantitative"}, "x2": {"datum": 7.27}, "y": {"datum": 1.38e-5, "type": "quantitative"}, "y2": {"datum": 6.17e-5}}},
   {"data": {"values": [{}]}, "mark": {"type": "rule", "color": "black", "strokeWidth": 0.8}, "encoding": {"x": {"datum": 6.04, "type": "quantitative"}, "y": {"datum": 1.38e-5, "type": "quantitative"}, "x2": {"datum": -0.9}, "y2": {"datum": 2.95e-7}}}
  ]},
  {"layer": [
   {"data": {"values": [{}]}, "mark": {"type": "rect", "fill": "white", "stroke": "black", "strokeWidth": 1},
    "encoding": {"x": {"datum": 4.34, "type": "quantitative", "scale": {"domain": [4.34, 7.67], "range": [11.7, 129.4], "clamp": true, "nice": false, "zero": false}, "axis": null}, "x2": {"datum": 7.67},
     "y": {"datum": 1.7e-5, "type": "quantitative", "scale": {"type": "log", "domain": [1.7e-5, 4.54e-5], "range": [300, 199.3], "clamp": true, "nice": false}, "axis": null}, "y2": {"datum": 4.54e-5}}},
   {"data": {"values": [{}]}, "mark": {"type": "rule", "color": "#ff0000", "strokeWidth": 1}, "encoding": {"x": {"datum": 4.34, "type": "quantitative"}, "x2": {"datum": 7.67}, "y": {"datum": 1.78e-5, "type": "quantitative"}}},
   {"data": {"name": "ber"}, "transform": [{"filter": "datum.RIN == '-144' && datum.OMA >= 4 && datum.OMA <= 8"}], "mark": {"type": "line", "strokeWidth": 1.2},
    "encoding": {"x": {"field": "OMA", "type": "quantitative"}, "y": {"field": "v", "type": "quantitative"}, "color": {"field": "RIN", "type": "nominal"}, "strokeDash": {"field": "scheme", "type": "nominal"}}},
   {"data": {"name": "ber"}, "transform": [{"filter": "datum.RIN == '-144' && datum.OMA >= 5 && datum.OMA <= 7"}], "mark": {"type": "point", "filled": false, "fill": "white", "fillOpacity": 1, "size": 30, "strokeWidth": 1, "opacity": 1},
    "encoding": {"x": {"field": "OMA", "type": "quantitative"}, "y": {"field": "v", "type": "quantitative"}, "color": {"field": "RIN", "type": "nominal"}, "shape": {"field": "scheme", "type": "nominal"}}},
   {"data": {"values": [{}]}, "mark": {"type": "rule", "color": "black", "strokeWidth": 1}, "encoding": {"x": {"datum": 5.57, "type": "quantitative"}, "y": {"datum": 3.98e-5, "type": "quantitative"}, "y2": {"datum": 1.95e-5}}},
   {"data": {"values": [{}]}, "mark": {"type": "point", "shape": "triangle-down", "filled": true, "color": "black", "size": 40, "opacity": 1}, "encoding": {"x": {"datum": 5.57, "type": "quantitative"}, "y": {"datum": 2.01e-5, "type": "quantitative"}}},
   {"data": {"values": [{}]}, "mark": {"type": "text", "align": "left", "baseline": "middle", "font": "DejaVu Serif", "fontSize": 13, "text": "×0.5"}, "encoding": {"x": {"datum": 5.72, "type": "quantitative"}, "y": {"datum": 3.02e-5, "type": "quantitative"}}}
  ]}
 ]
}
]
}
